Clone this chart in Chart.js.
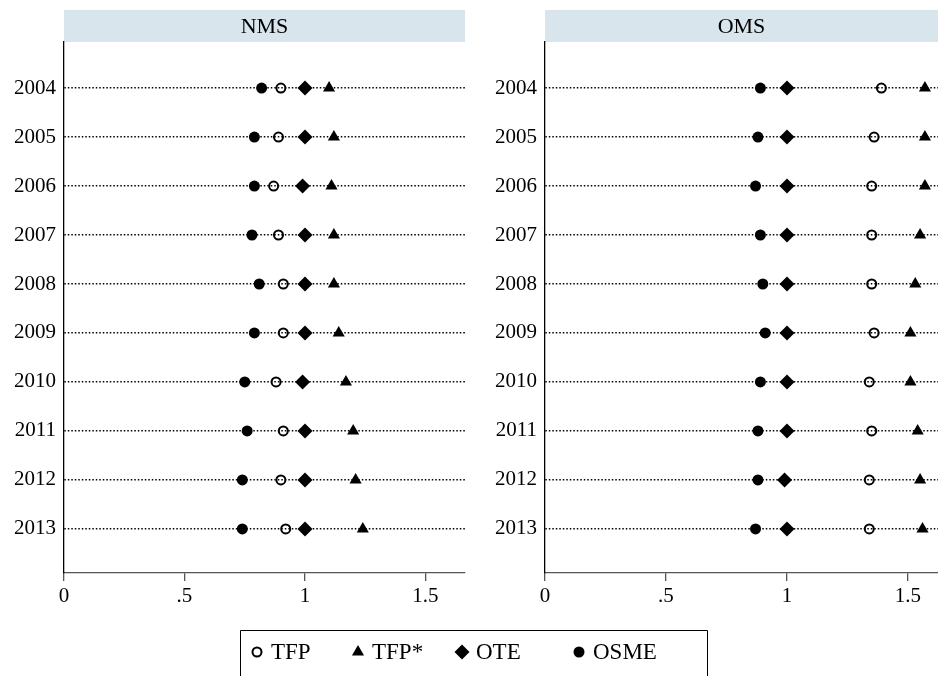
<!DOCTYPE html>
<html>
<head>
<meta charset="utf-8">
<script src="https://cdn.jsdelivr.net/npm/chart.js"></script>
<style>
  body { margin: 0; background: #fff; width: 938px; height: 676px; overflow: hidden; position: relative; }
  .panel { position: absolute; top: 0; height: 610px; }
  #legend { position: absolute; left: 240px; top: 630px; }
</style>
</head>
<body>
<div class="panel" style="left:0;width:470px"><canvas id="nms"></canvas></div>
<div class="panel" style="left:470px;width:468px"><canvas id="oms"></canvas></div>
<canvas id="legend" width="468" height="46"></canvas>
<script>
const years = [2004, 2005, 2006, 2007, 2008, 2009, 2010, 2011, 2012, 2013]
const xTicks = [0, 0.5, 1, 1.5]
const xTickLabels = ['0', '.5', '1', '1.5']
const seriesNames = ['TFP', 'TFP*', 'OTE', 'OSME']

// NMS
const nmsTFP     = [0.90, 0.89, 0.87, 0.89, 0.91, 0.91, 0.88, 0.91, 0.90, 0.92]
const nmsTFPstar = [1.10, 1.12, 1.11, 1.12, 1.12, 1.14, 1.17, 1.20, 1.21, 1.24]
const nmsOTE     = [1.00, 1.00, 0.99, 1.00, 1.00, 1.00, 0.99, 1.00, 1.00, 1.00]
const nmsOSME    = [0.82, 0.79, 0.79, 0.78, 0.81, 0.79, 0.75, 0.76, 0.74, 0.74]

// OMS
const omsTFP     = [1.39, 1.36, 1.35, 1.35, 1.35, 1.36, 1.34, 1.35, 1.34, 1.34]
const omsTFPstar = [1.57, 1.57, 1.57, 1.55, 1.53, 1.51, 1.51, 1.54, 1.55, 1.56]
const omsOTE     = [1.00, 1.00, 1.00, 1.00, 1.00, 1.00, 1.00, 1.00, 0.99, 1.00]
const omsOSME    = [0.89, 0.88, 0.87, 0.89, 0.90, 0.91, 0.89, 0.88, 0.88, 0.87]

const serif = "'Liberation Serif', 'Times New Roman', serif"

// marker look per series, shared by the panels and the legend
const markers = {
  'TFP':  { pointStyle: 'circle',   radius: 4.5, fill: 'rgba(0,0,0,0)', border: 2 },
  'TFP*': { pointStyle: 'triangle', radius: 7,   fill: '#000', border: 0 },
  'OTE':  { pointStyle: 'rectRot',  radius: 7.5, fill: '#000', border: 0 },
  'OSME': { pointStyle: 'circle',   radius: 5.5, fill: '#000', border: 0 }
}

const toPoints = vals => vals.map((v, i) => ({ x: v, y: years[i] }))

// light blue strip with the panel name above the plot area
const headerPlugin = {
  id: 'header',
  beforeDraw(chart, args, opts) {
    const { ctx, chartArea } = chart
    ctx.save()
    ctx.fillStyle = '#d9e5ec'
    ctx.fillRect(chartArea.left, 10, chartArea.right - chartArea.left, 32)
    ctx.fillStyle = '#000'
    ctx.font = '22px ' + serif
    ctx.textAlign = 'center'
    ctx.textBaseline = 'middle'
    ctx.fillText(opts.text, (chartArea.left + chartArea.right) / 2, 27)
    ctx.restore()
  }
}

function dataset(name, vals) {
  const m = markers[name]
  return { label: name, data: toPoints(vals), pointStyle: m.pointStyle, pointRadius: m.radius,
    backgroundColor: m.fill, borderColor: '#000', borderWidth: m.border }
}

function makePanel(id, title, tfp, tfpStar, ote, osme, xMax, yWidth, padRight) {
  return new Chart(document.getElementById(id), {
    type: 'scatter',
    data: {
      datasets: [
        dataset('OSME', osme),
        dataset('TFP', tfp),
        dataset('OTE', ote),
        dataset('TFP*', tfpStar)
      ]
    },
    options: {
      responsive: true,
      maintainAspectRatio: false,
      animation: false,
      clip: false,
      layout: { autoPadding: false, padding: { top: 42, right: padRight, left: 0, bottom: 0 } },
      plugins: {
        legend: { display: false },
        tooltip: { enabled: false },
        header: { text: title }
      },
      scales: {
        x: {
          type: 'linear',
          min: 0,
          max: xMax,
          afterBuildTicks: s => { s.ticks = xTicks.map(v => ({ value: v })) },
          afterFit: s => { s.height = 37; s.paddingLeft = 0; s.paddingRight = 0 },
          ticks: {
            autoSkip: false,
            maxRotation: 0,
            padding: 3,
            color: '#000',
            font: { family: serif, size: 21 },
            callback: (v) => xTickLabels[xTicks.indexOf(v)]
          },
          grid: { drawOnChartArea: false, drawTicks: true, tickLength: 8, color: '#555', lineWidth: 1.3 },
          border: { display: true, color: '#555', width: 1.3 }
        },
        y: {
          type: 'linear',
          reverse: true,
          min: 2003.06,
          max: 2013.9,
          afterBuildTicks: s => { s.ticks = years.map(v => ({ value: v })) },
          afterFit: s => { s.width = yWidth; s.paddingTop = 0; s.paddingBottom = 0 },
          ticks: {
            autoSkip: false,
            padding: 8,
            color: '#000',
            font: { family: serif, size: 21 },
            callback: v => String(v)
          },
          grid: { drawTicks: false, color: '#000', lineWidth: 1.4 },
          border: { display: true, color: '#000', width: 1.3, dash: [1.5, 2] }
        }
      }
    },
    plugins: [headerPlugin]
  })
}

// shared legend below both panels
function drawLegend() {
  const lg = document.getElementById('legend').getContext('2d')
  lg.clearRect(0, 0, 468, 46)
  lg.strokeStyle = '#000'
  lg.lineWidth = 1
  lg.beginPath()
  lg.moveTo(0.5, 46); lg.lineTo(0.5, 0.5); lg.lineTo(467.5, 0.5); lg.lineTo(467.5, 46)
  lg.stroke()
  lg.font = '23px ' + serif
  lg.textBaseline = 'middle'
  const legendX = [17, 118, 222, 339]
  seriesNames.forEach((name, i) => {
    const m = markers[name]
    lg.fillStyle = m.fill
    lg.strokeStyle = '#000'
    lg.lineWidth = m.border
    Chart.helpers.drawPoint(lg, { pointStyle: m.pointStyle, radius: m.radius, borderWidth: m.border, rotation: 0 }, legendX[i], 22)
    lg.fillStyle = '#000'
    lg.fillText(name, legendX[i] + 14, 23)
  })
}

function drawAll() {
  const a = makePanel('nms', 'NMS', nmsTFP, nmsTFPstar, nmsOTE, nmsOSME, 1.664, 64, 5)
  const b = makePanel('oms', 'OMS', omsTFP, omsTFPstar, omsOTE, omsOSME, 1.624, 75, 0)
  drawLegend()
}

document.fonts.load("23px 'Liberation Serif'").then(drawAll, drawAll)
</script>
</body>
</html>
